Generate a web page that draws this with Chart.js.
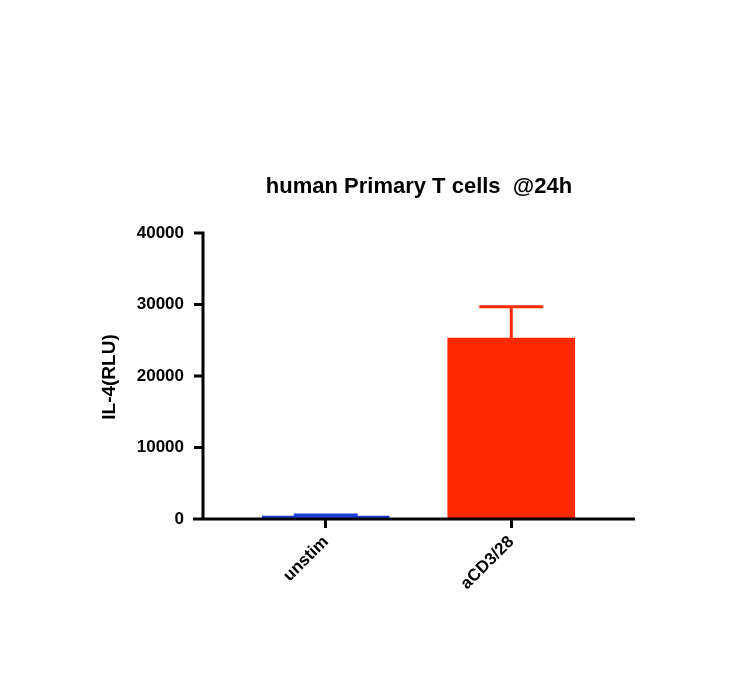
<!DOCTYPE html>
<html><head><meta charset="utf-8">
<script src="https://cdn.jsdelivr.net/npm/chart.js@4"></script>
<style>body{margin:0;background:#fff}#wrap{width:734px;height:684px}</style>
</head><body><div id="wrap"><canvas id="c"></canvas></div>
<script>
const categories = ['unstim', 'aCD3/28'];
const means = [400, 25300];
const errors = [150, 4400];
const colors = ['#1e3ed8', '#ff2a00'];
const yTicks = [0, 10000, 20000, 30000, 40000];
const font = 'Liberation Sans, Arial, sans-serif';

// axes lines, y tick marks, error bars and titles
const extras = {
  id: 'extras',
  afterDatasetsDraw(chart) {
    const ctx = chart.ctx, x = chart.scales.x, y = chart.scales.y;
    const axisX = 203;
    ctx.save();
    means.forEach((m, i) => {
      const px = x.getPixelForValue(i);
      const top = y.getPixelForValue(m + errors[i]);
      ctx.strokeStyle = colors[i];
      ctx.lineWidth = 3;
      ctx.beginPath();
      ctx.moveTo(px, y.getPixelForValue(m));
      ctx.lineTo(px, top);
      ctx.moveTo(px - 32, top);
      ctx.lineTo(px + 32, top);
      ctx.stroke();
    });
    ctx.strokeStyle = '#000';
    ctx.lineWidth = 3;
    ctx.beginPath();
    ctx.moveTo(193, y.bottom);
    ctx.lineTo(635, y.bottom);
    ctx.moveTo(axisX, y.bottom);
    ctx.lineTo(axisX, y.top - 1.5);
    yTicks.forEach(v => {
      const py = y.getPixelForValue(v);
      ctx.moveTo(axisX - 9, py);
      ctx.lineTo(axisX, py);
    });
    ctx.stroke();
    ctx.fillStyle = '#000';
    ctx.font = 'bold 22px ' + font;
    ctx.textAlign = 'center';
    ctx.textBaseline = 'middle';
    ctx.fillText('human Primary T cells  @24h', 419, 187);
    ctx.translate(110, 377);
    ctx.rotate(-Math.PI / 2);
    ctx.font = 'bold 19px ' + font;
    ctx.fillText('IL-4(RLU)', 0, 0);
    ctx.restore();
  }
};

new Chart(document.getElementById('c'), {
  type: 'bar',
  data: {
    labels: categories,
    datasets: [{
      data: means,
      backgroundColor: colors,
      borderWidth: 0,
      barThickness: 127
    }]
  },
  options: {
    responsive: true,
    maintainAspectRatio: false,
    animation: false,
    layout: { padding: { top: 233, right: 130, left: 0, bottom: 0 } },
    plugins: { legend: { display: false }, tooltip: { enabled: false }, title: { display: false } },
    scales: {
      x: {
        afterFit: s => { s.height = 684 - 519; },
        border: { display: false },
        grid: { drawOnChartArea: false, offset: false, color: '#000', lineWidth: 3, tickLength: 9 },
        ticks: {
          color: '#000', font: { family: font, size: 17, weight: 'bold' },
          minRotation: 45, maxRotation: 45, padding: 4
        }
      },
      y: {
        min: 0, max: 40000,
        afterBuildTicks: s => { s.ticks = yTicks.map(v => ({ value: v })); },
        afterFit: s => { s.width = 233; },
        border: { display: false },
        grid: { display: false },
        ticks: {
          color: '#000', font: { family: font, size: 17, weight: 'bold' }, padding: 41,
          callback: v => String(v)
        }
      }
    }
  },
  plugins: [extras]
});
</script></body></html>
